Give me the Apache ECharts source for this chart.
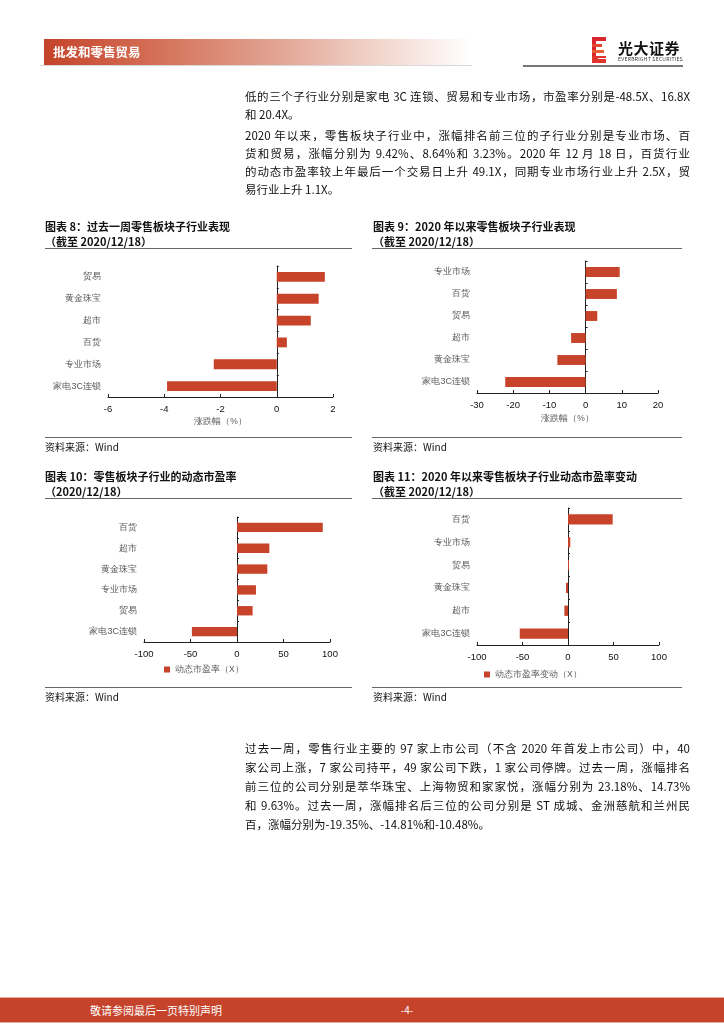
<!DOCTYPE html>
<html>
<head>
<meta charset="utf-8">
<script src="https://cdn.jsdelivr.net/npm/echarts@6/dist/echarts.min.js"></script>
<style>
  html, body { margin:0; padding:0; background:#fff; }
  #page { position:relative; width:724px; height:1024px; overflow:hidden; font-family:"Noto Sans CJK SC","Noto Sans",sans-serif; color:#111; }
  #chart { position:absolute; left:0; top:0; width:724px; height:1024px; }
  .abs { position:absolute; white-space:nowrap; }
  .ln { position:absolute; left:245px; width:445px; height:18px; line-height:18px; font-size:11.5px; white-space:nowrap; }
  .j { text-align:justify; text-align-last:justify; }
  .ttl { position:absolute; font-size:11px; font-weight:bold; line-height:14px; white-space:nowrap; color:#111; }
  .rule { position:absolute; height:1px; background:#666; }
  .src { position:absolute; font-size:10px; line-height:12px; color:#111; white-space:nowrap; }
</style>
</head>
<body>
<div id="page">
  <div id="chart"></div>

  <!-- header -->
  <div class="abs" style="left:44px;top:39px;width:428px;height:26px;background:linear-gradient(to right,#c4432a 0%,#d36e55 25%,#e2a594 55%,#f3d9d1 80%,#ffffff 100%);"></div>
  <div class="abs" style="left:53px;top:44px;font-size:12.5px;font-weight:bold;color:#fff;line-height:16px;">批发和零售贸易</div>
  <div class="abs" style="left:40px;top:65px;width:432px;height:1px;background:#d8d8d8;"></div>
  <!-- logo -->
  <div class="abs" style="left:592px;top:37px;width:14px;height:26px;">
    <div class="abs" style="left:0;top:0;width:4px;height:26px;background:#d8262c;"></div>
    <div class="abs" style="left:0;top:0;width:14px;height:4px;background:#d8262c;"></div>
    <div class="abs" style="left:0;top:7px;width:10px;height:3px;background:#e4462f;"></div>
    <div class="abs" style="left:0;top:13px;width:12px;height:3px;background:#ea5d33;"></div>
    <div class="abs" style="left:0;top:19px;width:14px;height:7px;background:#e0352d;"></div>
    <div class="abs" style="left:6px;top:21px;width:8px;height:1px;background:#fff;"></div>
  </div>
  <div class="abs" style="left:618px;top:39px;font-size:15px;font-weight:bold;color:#111;line-height:18px;letter-spacing:0.5px;">光大证券</div>
  <div class="abs" style="left:618px;top:56px;font-size:5px;color:#333;line-height:6px;letter-spacing:0.3px;">EVERBRIGHT SECURITIES</div>
  <div class="abs" style="left:523px;top:65px;width:160px;height:2px;background:#777;"></div>

  <!-- top paragraphs -->
  <div class="ln j" style="top:87px;">低的三个子行业分别是家电 3C 连锁、贸易和专业市场，市盈率分别是-48.5X、16.8X</div>
  <div class="ln" style="top:105px;">和 20.4X。</div>
  <div class="ln j" style="top:126px;">2020 年以来，零售板块子行业中，涨幅排名前三位的子行业分别是专业市场、百</div>
  <div class="ln j" style="top:144px;">货和贸易，涨幅分别为 9.42%、8.64%和 3.23%。2020 年 12 月 18 日，百货行业</div>
  <div class="ln j" style="top:162px;">的动态市盈率较上年最后一个交易日上升 49.1X，同期专业市场行业上升 2.5X，贸</div>
  <div class="ln" style="top:180px;">易行业上升 1.1X。</div>

  <!-- chart titles -->
  <div class="ttl" style="left:45px;top:219px;">图表 8：过去一周零售板块子行业表现</div>
  <div class="ttl" style="left:45px;top:234px;">（截至 2020/12/18）</div>
  <div class="rule" style="left:45px;top:248px;width:307px;"></div>
  <div class="rule" style="left:45px;top:437px;width:307px;"></div>
  <div class="src" style="left:45px;top:441px;">资料来源：Wind</div>

  <div class="ttl" style="left:373px;top:219px;">图表 9：2020 年以来零售板块子行业表现</div>
  <div class="ttl" style="left:373px;top:234px;">（截至 2020/12/18）</div>
  <div class="rule" style="left:372px;top:248px;width:310px;"></div>
  <div class="rule" style="left:372px;top:437px;width:310px;"></div>
  <div class="src" style="left:373px;top:441px;">资料来源：Wind</div>

  <div class="ttl" style="left:45px;top:469px;">图表 10：零售板块子行业的动态市盈率</div>
  <div class="ttl" style="left:45px;top:484px;">（2020/12/18）</div>
  <div class="rule" style="left:45px;top:498px;width:307px;"></div>
  <div class="rule" style="left:45px;top:687px;width:307px;"></div>
  <div class="src" style="left:45px;top:691px;">资料来源：Wind</div>

  <div class="ttl" style="left:373px;top:469px;">图表 11：2020 年以来零售板块子行业动态市盈率变动</div>
  <div class="ttl" style="left:373px;top:484px;">（截至 2020/12/18）</div>
  <div class="rule" style="left:372px;top:498px;width:310px;"></div>
  <div class="rule" style="left:372px;top:687px;width:310px;"></div>
  <div class="src" style="left:373px;top:691px;">资料来源：Wind</div>

  <!-- bottom paragraph -->
  <div class="ln j" style="top:739px;">过去一周，零售行业主要的 97 家上市公司（不含 2020 年首发上市公司）中，40</div>
  <div class="ln j" style="top:758px;">家公司上涨，7 家公司持平，49 家公司下跌，1 家公司停牌。过去一周，涨幅排名</div>
  <div class="ln j" style="top:777px;">前三位的公司分别是萃华珠宝、上海物贸和家家悦，涨幅分别为 23.18%、14.73%</div>
  <div class="ln j" style="top:796px;">和 9.63%。过去一周，涨幅排名后三位的公司分别是 ST 成城、金洲慈航和兰州民</div>
  <div class="ln" style="top:815px;">百，涨幅分别为-19.35%、-14.81%和-10.48%。</div>

  <!-- footer -->
  <div class="abs" style="left:0;top:997px;width:724px;height:1px;background:#e8a89a;"></div>
  <div class="abs" style="left:0;top:998px;width:724px;height:24px;background:#c5432a;"></div>
  <div class="abs" style="left:0;top:1022px;width:724px;height:1px;background:#e8a89a;"></div>
  <div class="abs" style="left:90px;top:1003px;font-size:11px;color:#fff;line-height:14px;">敬请参阅最后一页特别声明</div>
  <div class="abs" style="left:399px;top:1003px;width:16px;text-align:center;font-size:10px;color:#fff;line-height:14px;">-4-</div>
</div>

<script>
// ---- data ----
const cats8 = ['贸易', '黄金珠宝', '超市', '百货', '专业市场', '家电3C连锁'];
const vals8 = [1.71, 1.49, 1.21, 0.36, -2.24, -3.90];

const cats9 = ['专业市场', '百货', '贸易', '超市', '黄金珠宝', '家电3C连锁'];
const vals9 = [9.42, 8.64, 3.23, -4.0, -7.8, -22.2];

const cats10 = ['百货', '超市', '黄金珠宝', '专业市场', '贸易', '家电3C连锁'];
const vals10 = [92.2, 34.8, 32.6, 20.4, 16.8, -48.5];

const cats11 = ['百货', '专业市场', '贸易', '黄金珠宝', '超市', '家电3C连锁'];
const vals11 = [49.1, 2.5, 1.1, -2.2, -4.0, -53.0];

const ticks8 = { min: -6, max: 2, interval: 2 };
const ticks9 = { min: -30, max: 20, interval: 10 };
const ticks10 = { min: -100, max: 100, interval: 50 };
const ticks11 = { min: -100, max: 100, interval: 50 };

const seriesNames = ['涨跌幅（%）', '涨跌幅（%） ', '动态市盈率（X）', '动态市盈率变动（X）'];

// ---- layout ----
const BAR = '#C7432A';
const grids = [
  { left: 108, top: 266, width: 225, height: 131 },
  { left: 477, top: 261, width: 181, height: 132 },
  { left: 144, top: 517, width: 186, height: 125 },
  { left: 477, top: 508, width: 182, height: 137 }
];
const allCats = [cats8, cats9, cats10, cats11];
const allVals = [vals8, vals9, vals10, vals11];
const allTicks = [ticks8, ticks9, ticks10, ticks11];
const axisNames = ['涨跌幅（%）', '涨跌幅（%）', '', ''];
const nameGaps = [20, 21, 0, 0];

const xAxis = [], yAxis = [], series = [];
for (let i = 0; i < 4; i++) {
  xAxis.push({
    gridIndex: i, type: 'value',
    min: allTicks[i].min, max: allTicks[i].max, interval: allTicks[i].interval,
    axisLine: { show: true, onZero: false, lineStyle: { color: '#222', width: 1 } },
    axisTick: { show: true, inside: true, length: 3, lineStyle: { color: '#222' } },
    splitLine: { show: false },
    axisLabel: { fontSize: 9.5, color: '#111', margin: 7, fontFamily: 'Arial, Liberation Sans' },
    name: axisNames[i], nameLocation: 'middle', nameGap: nameGaps[i],
    nameTextStyle: { fontSize: 8.5, color: '#595959' }
  });
  yAxis.push({
    gridIndex: i, type: 'category', data: allCats[i], inverse: true, position: 'left',
    axisLine: { show: false, onZero: false }, axisTick: { show: false },
    axisLabel: { fontSize: 9, color: '#595959', margin: 7 }
  });
  yAxis.push({
    gridIndex: i, type: 'category', data: allCats[i], inverse: true, position: 'right',
    axisLine: { show: true, onZero: true, lineStyle: { color: '#222', width: 1 } },
    axisTick: { show: true, inside: false, length: 2, lineStyle: { color: '#222' } },
    axisLabel: { show: false }
  });
  series.push({
    name: seriesNames[i], type: 'bar', xAxisIndex: i, yAxisIndex: i * 2,
    data: allVals[i], barWidth: '45%',
    itemStyle: { color: BAR }
  });
}

const chart = echarts.init(document.getElementById('chart'), null, { renderer: 'canvas' });
chart.setOption({
  animation: false,
  grid: grids,
  xAxis: xAxis,
  yAxis: yAxis,
  legend: [
    { data: [seriesNames[2]], left: 159, top: 660, icon: 'rect', itemWidth: 6, itemHeight: 6,
      textStyle: { fontSize: 8.5, color: '#595959' }, selectedMode: false },
    { data: [seriesNames[3]], left: 479, top: 665, icon: 'rect', itemWidth: 6, itemHeight: 6,
      textStyle: { fontSize: 8.5, color: '#595959' }, selectedMode: false }
  ],
  series: series
});
</script>
</body>
</html>
